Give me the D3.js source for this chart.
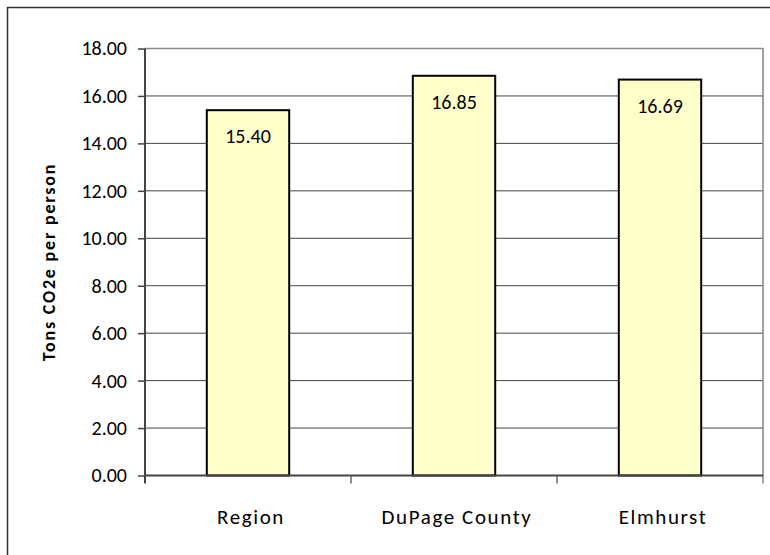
<!DOCTYPE html>
<html><head><meta charset="utf-8">
<script src="https://cdn.jsdelivr.net/npm/d3@7"></script>
<style>html,body{margin:0;padding:0;background:#fff;}svg{display:block;font-family:Calibri,Carlito,Lato,"Open Sans",sans-serif;}</style>
</head><body>
<script>
const categories = ["Region", "DuPage County", "Elmhurst"];
const values = [15.40, 16.85, 16.69];
const labels = ["15.40", "16.85", "16.69"];
const yTicks = [0, 2, 4, 6, 8, 10, 12, 14, 16, 18];
const yTitle = "Tons CO2e per person";

const W = 770, H = 555;
const pL = 145, pR = 763, pT = 48.5, pB = 475.5;
const svg = d3.select("body").append("svg").attr("width", W).attr("height", H);

// outer border
svg.append("rect").attr("x", 7.5).attr("y", 7.5).attr("width", 775).attr("height", 560)
  .attr("fill", "#fff").attr("stroke", "#333").attr("stroke-width", 1.5);

const x = d3.scaleBand().domain(categories).range([pL, pR]).padding(0);
const y = d3.scaleLinear().domain([0, 18]).range([pB, pT]);

// gridlines
svg.append("g").selectAll("line").data(yTicks.filter(d => d > 0 && d < 18)).join("line")
  .attr("x1", pL).attr("x2", pR).attr("y1", d => y(d)).attr("y2", d => y(d))
  .attr("stroke", "#444").attr("stroke-width", 1);
// plot border top/right
svg.append("path").attr("d", `M${pL},${y(18)}H${pR}V${pB + 8}`)
  .attr("fill", "none").attr("stroke", "#8a8a8a").attr("stroke-width", 1.6);

// bars
const bw = x.bandwidth();
svg.append("g").selectAll("rect").data(values).join("rect")
  .attr("x", (d, i) => x(categories[i]) + bw * 0.3)
  .attr("width", bw * 0.4)
  .attr("y", d => y(d))
  .attr("height", d => y(0) - y(d))
  .attr("fill", "#ffffcc").attr("stroke", "#000").attr("stroke-width", 2);

// data labels
svg.append("g").selectAll("text").data(values).join("text")
  .attr("x", (d, i) => x(categories[i]) + bw / 2)
  .attr("y", d => y(d) + 33)
  .attr("text-anchor", "middle").attr("font-size", 20).attr("fill", "#000")
  .text((d, i) => labels[i]);

// y axis
const yAxis = d3.axisLeft(y).tickValues(yTicks).tickFormat(d3.format(".2f")).tickSize(7).tickPadding(11);
const gy = svg.append("g").attr("transform", `translate(${pL},0)`).call(yAxis);
gy.select(".domain").remove();
gy.selectAll(".tick line").attr("stroke", "#444").attr("stroke-width", 1.5);
gy.selectAll(".tick text").attr("font-size", 20).attr("fill", "#000")
  .style("font-family", "Calibri,Carlito,Lato,'Open Sans',sans-serif");
svg.append("line").attr("x1", pL).attr("x2", pL).attr("y1", pT).attr("y2", pB + 8)
  .attr("stroke", "#444").attr("stroke-width", 2);

// x axis
svg.append("line").attr("x1", pL).attr("x2", pR).attr("y1", pB).attr("y2", pB)
  .attr("stroke", "#444").attr("stroke-width", 2);
const bounds = categories.map(c => x(c)).concat([pR]);
svg.append("g").selectAll("line").data(bounds.slice(1, 3)).join("line")
  .attr("x1", d => d).attr("x2", d => d).attr("y1", pB).attr("y2", pB + 8)
  .attr("stroke", "#666").attr("stroke-width", 1.5);
svg.append("g").selectAll("text").data(categories).join("text")
  .attr("x", d => x(d) + bw / 2 + 3).attr("y", 524)
  .attr("text-anchor", "middle").attr("font-size", 21).attr("fill", "#000")
  .attr("letter-spacing", "1.6px")
  .text(d => d);

// y title
svg.append("text").attr("transform", `translate(55,${(pT + pB) / 2}) rotate(-90)`)
  .attr("text-anchor", "middle").attr("font-size", 18).attr("font-weight", "bold").attr("fill", "#000")
  .attr("letter-spacing", "1.8px")
  .text(yTitle);
</script>
</body></html>
